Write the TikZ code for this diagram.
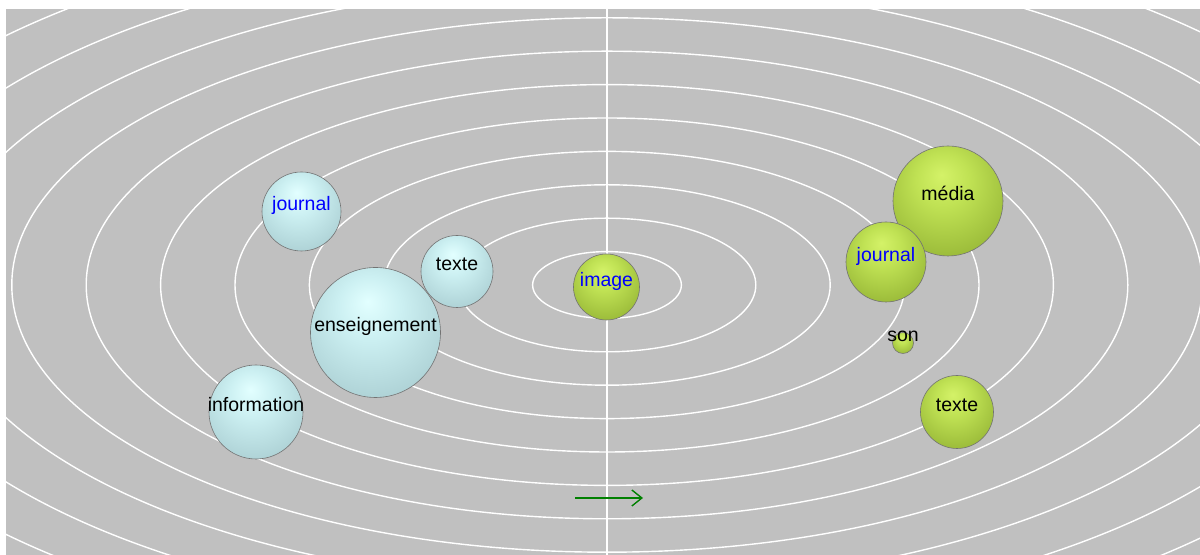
\documentclass[tikz,border=0pt]{standalone}
\usepackage{fontspec}
\setmainfont{Liberation Sans}
\usetikzlibrary{arrows.meta}

\definecolor{bggray}{RGB}{192,192,192}
\definecolor{cyanhi}{RGB}{226,255,255}
\definecolor{cyanmid}{RGB}{204,240,242}
\definecolor{cyanlow}{RGB}{170,206,210}
\definecolor{cyanedge}{RGB}{110,138,142}
\definecolor{cyandark}{RGB}{70,90,94}
\definecolor{greenhi}{RGB}{212,242,104}
\definecolor{greenmid}{RGB}{192,226,84}
\definecolor{greenlow}{RGB}{150,182,54}
\definecolor{greenedge}{RGB}{100,122,34}
\definecolor{greendark}{RGB}{62,76,20}
\definecolor{arrowgreen}{RGB}{0,128,0}
\definecolor{wordblue}{RGB}{0,0,255}

\pgfdeclareradialshading{cyanball}{\pgfpoint{-3bp}{12bp}}{color(0bp)=(cyanhi); color(12bp)=(cyanmid); color(34bp)=(cyanlow); color(50bp)=(cyanedge); color(60bp)=(cyandark)}
\pgfdeclareradialshading{greenball}{\pgfpoint{-3bp}{12bp}}{color(0bp)=(greenhi); color(12bp)=(greenmid); color(34bp)=(greenlow); color(50bp)=(greenedge); color(60bp)=(greendark)}

\tikzset{
  ring/.style={white, line width=0.7pt},
  bball/.style={circle, inner sep=0pt, shade, shading=cyanball, draw=black!55, line width=0.3pt},
  gball/.style={circle, inner sep=0pt, shade, shading=greenball, draw=black!55, line width=0.3pt},
  word/.style={font=\fontsize{9.75}{11}\selectfont, inner sep=0pt, anchor=mid},
}

\begin{document}
\begin{tikzpicture}[x=0.5pt, y=0.5pt]
  \fill[white] (0,0) rectangle (1200,555);
  \fill[bggray] (6,0) rectangle (1200,546);
  \begin{scope}
    \clip (6,0) rectangle (1200,546);
    % rings
    \foreach \k in {1,...,12} {
      \draw[ring] (607,270) ellipse [x radius=74.4*\k, y radius=33.4*\k];
    }
    \draw[ring] (607,0) -- (607,546);
  \end{scope}

  % left group
  \node[bball, minimum size=39.5pt] (jl) at (301.5,343.5) {};
  \node[bball, minimum size=36pt] (tl) at (457,283.5) {};
  \node[bball, minimum size=65pt] (en) at (375.5,222.5) {};
  \node[bball, minimum size=47pt] (inf) at (256,143) {};
  \node[word, text=wordblue] (jltxt) at ([yshift=3pt]jl) {journal};
  \node[word] (tltxt) at ([yshift=3pt]tl) {texte};
  \node[word] (entxt) at ([yshift=3pt]en) {enseignement};
  \node[word] (inftxt) at ([yshift=3pt]inf) {information};

  % centre
  \node[gball, minimum size=33pt] (img) at (606.5,268) {};
  \node[word, text=wordblue] (imgtxt) at ([yshift=3pt]img) {image};

  % right group
  \node[gball, minimum size=55pt] (med) at (948,354) {};
  \node[gball, minimum size=40pt] (jr) at (886,293) {};
  \node[gball, minimum size=10.5pt] (son) at (903,212) {};
  \node[gball, minimum size=36.5pt] (tr) at (957,143) {};
  \node[word] (medtxt) at ([yshift=3pt]med) {média};
  \node[word, text=wordblue] (jrtxt) at ([yshift=3pt]jr) {journal};
  \node[word] (sontxt) at ([yshift=3.5pt]son) {son};
  \node[word] (trtxt) at ([yshift=3pt]tr) {texte};

  \coordinate (a0) at (575,57);
  \coordinate (a1) at (643,57);
  \draw[arrowgreen, line width=0.7pt, -{Straight Barb[length=5pt, width=8pt]}] (a0) -- (a1);
\end{tikzpicture}
\end{document}
